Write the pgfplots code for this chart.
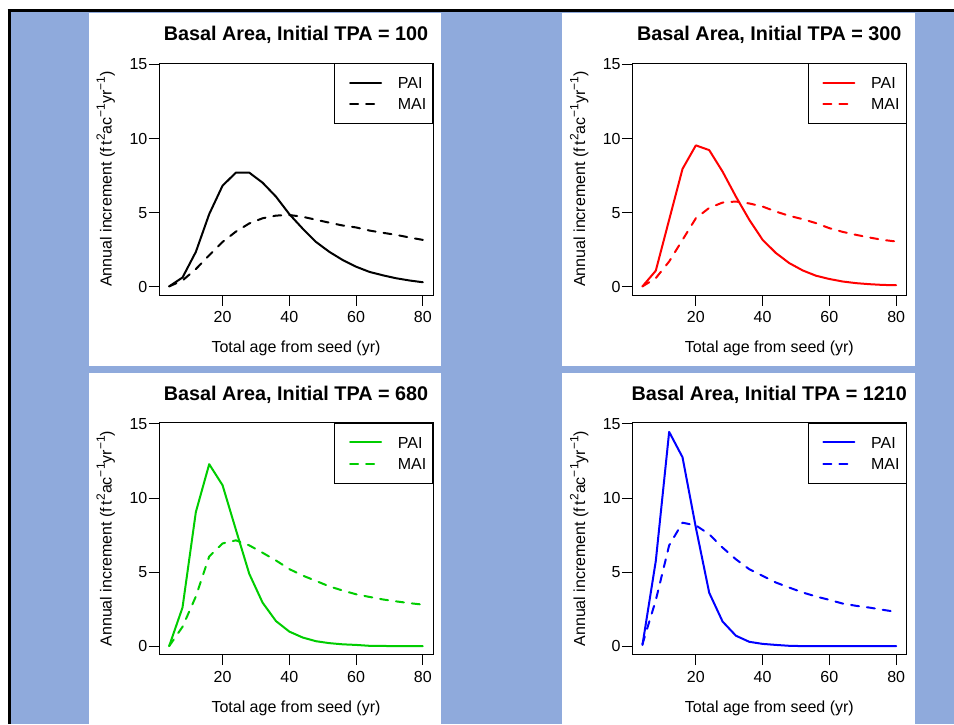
\documentclass[border=0pt]{standalone}
\usepackage{pgfplots}
\usepackage{pgfplotstable}
\pgfplotsset{compat=1.18}
\usepackage{fontspec}
\setmainfont{Liberation Sans}
\definecolor{bgblue}{HTML}{8FAADC}
\definecolor{rgreen}{HTML}{00CD00}
\newcommand{\sups}[1]{\raisebox{0.42em}{\fontsize{12}{12}\selectfont #1}}

\pgfplotstableread{
x pai mai
4 0 0
8 0.6 0.4
12 2.33 1.17
16 4.88 2.1
20 6.8 3.0
24 7.68 3.7
28 7.68 4.25
32 7.0 4.6
36 6.06 4.78
40 4.88 4.82
44 3.9 4.7
48 3.0 4.5
52 2.33 4.3
56 1.78 4.11
60 1.33 3.98
64 0.98 3.77
68 0.75 3.62
72 0.55 3.48
76 0.4 3.3
80 0.28 3.14
}\tabA

\pgfplotstableread{
x pai mai
4 0 0
8 1.06 0.56
12 4.5 1.68
16 7.93 3.14
20 9.52 4.6
24 9.2 5.3
28 7.75 5.66
32 6.06 5.73
36 4.5 5.6
40 3.14 5.39
44 2.25 5.05
48 1.57 4.76
52 1.08 4.54
56 0.72 4.27
60 0.5 3.93
64 0.33 3.68
68 0.22 3.48
72 0.15 3.3
76 0.1 3.14
80 0.08 3.03
}\tabB

\pgfplotstableread{
x pai mai
4 0 0
8 2.6 1.3
12 9.05 3.35
16 12.28 6.05
20 10.86 6.93
24 7.85 7.14
28 4.88 6.8
32 2.93 6.3
36 1.69 5.78
40 0.98 5.2
44 0.58 4.76
48 0.33 4.4
52 0.2 4.03
56 0.12 3.75
60 0.08 3.5
64 0.02 3.32
68 0.01 3.15
72 0 3.02
76 0 2.9
80 0 2.8
}\tabC

\pgfplotstableread{
x pai mai
4 0.07 0.13
8 5.75 3.1
12 14.46 6.8
16 12.75 8.33
20 8.0 8.15
24 3.6 7.55
28 1.66 6.65
32 0.7 5.86
36 0.29 5.19
40 0.15 4.74
44 0.08 4.29
48 0.02 3.95
52 0 3.62
56 0 3.35
60 0 3.12
64 0 2.87
68 0 2.72
72 0 2.6
76 0 2.45
80 0 2.31
}\tabD

\pgfplotsset{
  panel/.style={
    scale only axis, width=274pt, height=232pt, anchor=south west,
    xmin=0.96, xmax=83.04, ymin=-0.58, ymax=15.08,
    xtick={20,40,60,80}, ytick={0,5,10,15},
    tick align=outside, xtick pos=bottom, ytick pos=left,
    major tick length=10.5pt,
    tick style={black, line width=0.8pt},
    axis line style={black, line width=0.8pt},
    /pgf/number format/assume math mode=true,
    ticklabel style={font=\fontsize{16}{16}\selectfont, inner sep=0pt, text height=11.5pt, text depth=0pt},
    yticklabel style={anchor=east, xshift=-1pt},
    xticklabel style={anchor=north, yshift=-5.5pt},
    title style={at={(axis description cs:0.5,1.0703)}, anchor=base, inner sep=0pt,
      font=\bfseries\fontsize{19.8}{20}\selectfont},
    xlabel style={at={(axis description cs:0.5,-0.2487)}, anchor=base, inner sep=0pt,
      font=\fontsize{16}{16}\selectfont},
    ylabel style={at={(axis description cs:-0.1726,0.5)}, anchor=base, inner sep=0pt,
      font=\fontsize{16}{16}\selectfont},
    xlabel={Total age from seed (yr)},
    ylabel={Annual increment (f\,t\sups{2}ac\sups{−1}yr\sups{−1})},
    legend style={at={(1,1)}, anchor=north east, draw=black, line width=0.8pt, fill=white,
      inner xsep=6.3pt, inner ysep=13.6pt, row sep=9.8pt,
      font=\fontsize{16}{16}\selectfont,
      nodes={inner sep=0pt, text height=11.5pt, text depth=0pt},
      cells={anchor=center}},
    legend cell align=left,
    legend image code/.code={\draw[##1] (8.1pt,0pt) -- (39.1pt,0pt); \path (0pt,0pt) (54.8pt,0pt);},
  },
  solidl/.style={line width=2pt, line cap=round, line join=round},
  dashl/.style={line width=2pt, line cap=round, line join=round, dash pattern=on 8pt off 8pt},
}

\begin{document}
\begin{tikzpicture}[x=1pt,y=1pt]
\useasboundingbox (0,0) rectangle (954,724);
\fill[white] (0,0) rectangle (954,724);
\fill[bgblue] (9,0) rectangle (954,713);
\draw[black, line width=3pt] (7.5,713) -- (954,713);
\draw[black, line width=3pt] (9,0) -- (9,714.5);
\fill[white] (89,358) rectangle (441,711.3);
\fill[white] (562,358) rectangle (915,711.3);
\fill[white] (89,0) rectangle (441,351);
\fill[white] (562,0) rectangle (915,351);

\begin{axis}[panel, at={(159pt,429pt)}, title={Basal Area, Initial TPA = 100}]
\addplot[black, solidl] table[x=x, y=pai] {\tabA};
\addplot[black, dashl] table[x=x, y=mai] {\tabA};
\legend{PAI, MAI}
\end{axis}

\begin{axis}[panel, at={(632.3pt,429pt)}, title={Basal Area, Initial TPA = 300}]
\addplot[red, solidl] table[x=x, y=pai] {\tabB};
\addplot[red, dashl] table[x=x, y=mai] {\tabB};
\legend{PAI, MAI}
\end{axis}

\begin{axis}[panel, at={(159pt,69.3pt)}, title={Basal Area, Initial TPA = 680}]
\addplot[rgreen, solidl] table[x=x, y=pai] {\tabC};
\addplot[rgreen, dashl] table[x=x, y=mai] {\tabC};
\legend{PAI, MAI}
\end{axis}

\begin{axis}[panel, at={(632.3pt,69.3pt)}, title={Basal Area, Initial TPA = 1210}]
\addplot[blue, solidl] table[x=x, y=pai] {\tabD};
\addplot[blue, dashl] table[x=x, y=mai] {\tabD};
\legend{PAI, MAI}
\end{axis}
\end{tikzpicture}
\end{document}
